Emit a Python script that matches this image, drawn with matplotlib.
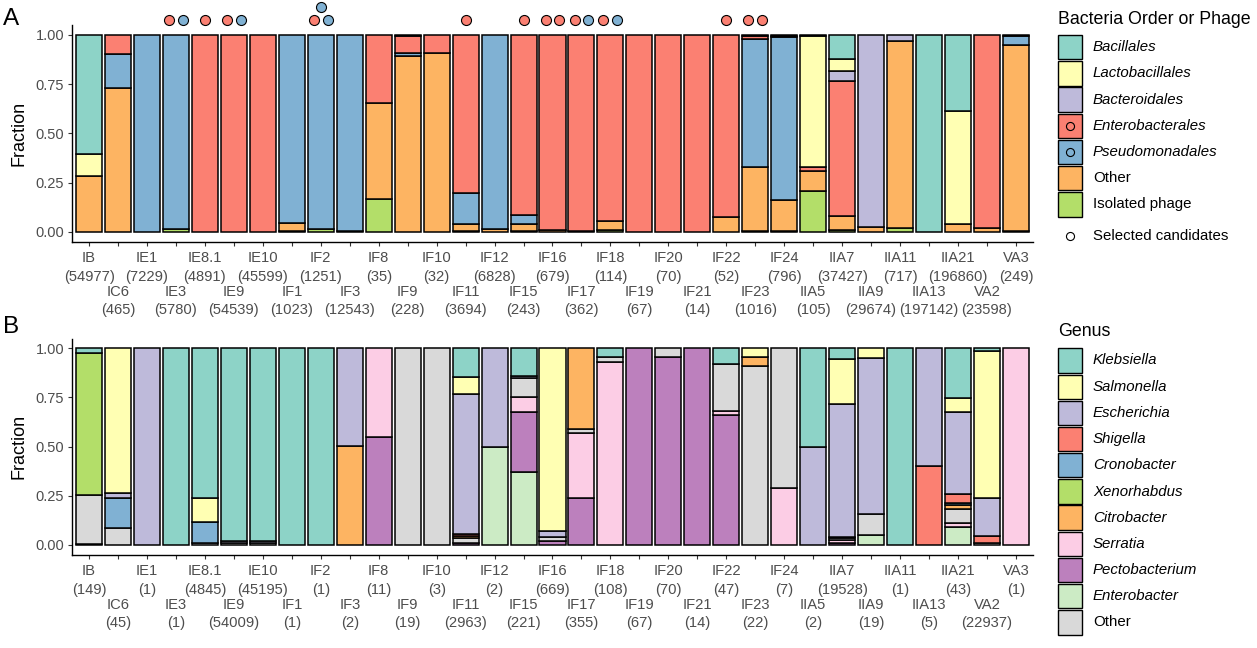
import numpy as np
import matplotlib
matplotlib.use('Agg')
import matplotlib.pyplot as plt
import matplotlib.transforms as mtransforms
from matplotlib.patches import Rectangle
from matplotlib.lines import Line2D

plt.rcParams['font.family'] = ['Liberation Sans', 'DejaVu Sans']

W, H = 1257, 648

strains = ['IB', 'IC6', 'IE1', 'IE3', 'IE8.1', 'IE9', 'IE10',
           'IF1', 'IF2', 'IF3', 'IF8', 'IF9', 'IF10', 'IF11', 'IF12',
           'IF15', 'IF16', 'IF17', 'IF18', 'IF19', 'IF20', 'IF21', 'IF22', 'IF23', 'IF24',
           'IIA5', 'IIA7', 'IIA9', 'IIA11', 'IIA13', 'IIA21', 'VA2', 'VA3']
counts_a = [54977, 465, 7229, 5780, 4891, 54539, 45599,
            1023, 1251, 12543, 35, 228, 32, 3694, 6828,
            243, 679, 362, 114, 67, 70, 14, 52, 1016, 796,
            105, 37427, 29674, 717, 197142, 196860, 23598, 249]
counts_b = [149, 45, 1, 1, 4845, 54009, 45195,
            1, 1, 2, 11, 19, 3, 2963, 2,
            221, 669, 355, 108, 67, 70, 14, 47, 22, 7,
            2, 19528, 19, 1, 5, 43, 22937, 1]

# panel A: fraction per bacterial order (stacked bottom -> top)
phage_a = [0, 0, 0, 0.012, 0, 0, 0,
           0.006, 0.015, 0, 0.169, 0, 0, 0.005, 0,
           0.005, 0, 0, 0.008, 0, 0, 0, 0, 0.005, 0.005,
           0.208, 0.008, 0, 0.02, 0, 0, 0, 0.005]
other_a = [0.285, 0.729, 0, 0, 0, 0, 0,
           0.038, 0, 0.004, 0.487, 0.895, 0.907, 0.036, 0.012,
           0.037, 0.01, 0.006, 0.045, 0, 0, 0, 0.076, 0.325, 0.159,
           0.102, 0.073, 0.025, 0.948, 0, 0.039, 0.02, 0.941]
pseudo_a = [0, 0.173, 1, 0.988, 0, 0, 0,
            0.956, 0.985, 0.996, 0, 0.012, 0, 0.154, 0.988,
            0.043, 0, 0, 0, 0, 0, 0, 0, 0.648, 0.824,
            0, 0, 0, 0, 0, 0, 0, 0.049]
entero_a = [0, 0.098, 0, 0, 1, 1, 1,
            0, 0, 0, 0.344, 0.089, 0.093, 0.805, 0,
            0.915, 0.99, 0.994, 0.947, 1, 1, 1, 0.924, 0.017, 0.008,
            0.02, 0.685, 0, 0, 0, 0, 0.98, 0.005]
bactero_a = [0, 0, 0, 0, 0, 0, 0,
             0, 0, 0, 0, 0.004, 0, 0, 0,
             0, 0, 0, 0, 0, 0, 0, 0, 0, 0,
             0, 0.051, 0.975, 0.032, 0, 0, 0, 0]
lacto_a = [0.108, 0, 0, 0, 0, 0, 0,
           0, 0, 0, 0, 0, 0, 0, 0,
           0, 0, 0, 0, 0, 0, 0, 0, 0, 0,
           0.662, 0.059, 0, 0, 0, 0.575, 0, 0]
bacil_a = [0.607, 0, 0, 0, 0, 0, 0,
           0, 0, 0, 0, 0, 0, 0, 0,
           0, 0, 0, 0, 0, 0, 0, 0, 0.005, 0.004,
           0.008, 0.124, 0, 0, 1, 0.386, 0, 0]

# panel B: fraction per genus (stacked bottom -> top)
enterob_b = [0, 0, 0, 0, 0, 0, 0,
             0, 0, 0, 0, 0, 0, 0, 0.5,
             0.369, 0, 0, 0, 0, 0, 0, 0, 0, 0,
             0, 0, 0.053, 0, 0, 0.093, 0, 0]
pecto_b = [0.006, 0, 0, 0, 0, 0, 0,
           0, 0, 0, 0.547, 0, 0, 0.012, 0,
           0.306, 0.022, 0.237, 0, 1, 0.958, 1, 0.661, 0, 0,
           0, 0.01, 0, 0, 0, 0, 0, 0]
serratia_b = [0, 0, 0, 0, 0, 0, 0,
              0, 0, 0, 0.453, 0, 0, 0, 0,
              0.076, 0, 0.331, 0.932, 0, 0, 0, 0.02, 0, 0.288,
              0, 0.015, 0, 0, 0, 0.02, 0, 1]
other_b = [0.25, 0.088, 0, 0, 0.008, 0.012, 0.012,
           0, 0, 0, 0, 1, 1, 0.025, 0,
           0.1, 0.017, 0.024, 0.024, 0, 0.042, 0, 0.238, 0.912, 0.712,
           0, 0.01, 0.106, 0, 0, 0.07, 0.01, 0]
citro_b = [0, 0, 0, 0, 0, 0, 0,
           0, 0, 0.502, 0, 0, 0, 0.008, 0,
           0, 0, 0.408, 0, 0, 0, 0, 0, 0.042, 0,
           0, 0.007, 0, 0, 0, 0.022, 0, 0]
xeno_b = [0.722, 0, 0, 0, 0, 0, 0,
          0, 0, 0, 0, 0, 0, 0, 0,
          0, 0, 0, 0, 0, 0, 0, 0, 0, 0,
          0, 0, 0, 0, 0, 0, 0, 0]
crono_b = [0, 0.153, 0, 0, 0.111, 0, 0,
           0, 0, 0, 0, 0, 0, 0, 0,
           0, 0, 0, 0, 0, 0, 0, 0, 0, 0,
           0, 0, 0, 0, 0, 0.01, 0, 0]
shig_b = [0, 0, 0, 0, 0, 0, 0,
          0, 0, 0, 0, 0, 0, 0.01, 0,
          0, 0, 0, 0, 0, 0, 0, 0, 0, 0,
          0, 0, 0, 0, 0.402, 0.045, 0.036, 0]
esch_b = [0, 0.025, 1, 0, 0, 0.008, 0.01,
          0, 0, 0.498, 0, 0, 0, 0.713, 0.5,
          0.009, 0.032, 0, 0, 0, 0, 0, 0, 0, 0,
          0.5, 0.675, 0.792, 0, 0.598, 0.417, 0.191, 0]
salm_b = [0, 0.734, 0, 0, 0.12, 0, 0,
          0, 0, 0, 0, 0, 0, 0.088, 0,
          0, 0.929, 0, 0, 0, 0, 0, 0, 0.046, 0,
          0, 0.229, 0.049, 0, 0, 0.071, 0.751, 0]
kleb_b = [0.022, 0, 0, 1, 0.761, 0.98, 0.978,
          1, 1, 0, 0, 0, 0, 0.144, 0,
          0.14, 0, 0, 0.044, 0, 0, 0, 0.081, 0, 0,
          0.5, 0.054, 0, 1, 0, 0.252, 0.012, 0]

# selected candidates shown above panel A
cand_strains = ['IE3', 'IE3', 'IE8.1', 'IE9', 'IE9', 'IF2', 'IF2', 'IF2',
                'IF11', 'IF15', 'IF16', 'IF16', 'IF17', 'IF17', 'IF18', 'IF18',
                'IF22', 'IF23', 'IF23']
cand_orders = ['Enterobacterales', 'Pseudomonadales', 'Enterobacterales',
               'Enterobacterales', 'Pseudomonadales', 'Enterobacterales',
               'Pseudomonadales', 'Pseudomonadales', 'Enterobacterales',
               'Enterobacterales', 'Enterobacterales', 'Enterobacterales',
               'Enterobacterales', 'Pseudomonadales', 'Enterobacterales',
               'Pseudomonadales', 'Enterobacterales', 'Enterobacterales',
               'Enterobacterales']

orders = ['Bacillales', 'Lactobacillales', 'Bacteroidales', 'Enterobacterales',
          'Pseudomonadales', 'Other', 'Isolated phage']
order_colors = ['#8DD3C7', '#FFFFB3', '#BEBADA', '#FB8072', '#80B1D3', '#FDB462', '#B3DE69']
stack_a = [phage_a, other_a, pseudo_a, entero_a, bactero_a, lacto_a, bacil_a]
stack_a_col = ['#B3DE69', '#FDB462', '#80B1D3', '#FB8072', '#BEBADA', '#FFFFB3', '#8DD3C7']

genera = ['Klebsiella', 'Salmonella', 'Escherichia', 'Shigella', 'Cronobacter',
          'Xenorhabdus', 'Citrobacter', 'Serratia', 'Pectobacterium', 'Enterobacter', 'Other']
genus_colors = ['#8DD3C7', '#FFFFB3', '#BEBADA', '#FB8072', '#80B1D3', '#B3DE69',
                '#FDB462', '#FCCDE5', '#BC80BD', '#CCEBC5', '#D9D9D9']
stack_b = [enterob_b, pecto_b, serratia_b, other_b, citro_b, xeno_b, crono_b,
           shig_b, esch_b, salm_b, kleb_b]
stack_b_col = ['#CCEBC5', '#BC80BD', '#FCCDE5', '#D9D9D9', '#FDB462', '#B3DE69',
               '#80B1D3', '#FB8072', '#BEBADA', '#FFFFB3', '#8DD3C7']

fig = plt.figure(figsize=(W / 100, H / 100), dpi=100)


def fx(px):
    return px / W


def fy(py):
    return 1 - py / H


x = np.arange(1, len(strains) + 1)


def draw_panel(ax, stack, cols, counts, ax_h_px):
    bottom = np.zeros(len(x))
    for vals, col in zip(stack, cols):
        vals = np.array(vals, dtype=float)
        m = vals > 0
        ax.bar(x[m], vals[m], bottom=bottom[m], width=0.9, color=col,
               edgecolor='black', linewidth=1.1)
        bottom += vals
    ax.set_xlim(0.4, len(x) + 0.6)
    ax.set_ylim(-0.05, 1.05)
    ax.set_yticks([0, 0.25, 0.5, 0.75, 1.0])
    ax.set_yticklabels(['0.00', '0.25', '0.50', '0.75', '1.00'])
    ax.set_xticks(x)
    ax.set_xticklabels([])
    # strain labels alternate between two rows under the axis
    trans = mtransforms.blended_transform_factory(ax.transData, ax.transAxes)
    for i, (s, c) in enumerate(zip(strains, counts)):
        off = 9.4 if i % 2 == 0 else 42.8
        ax.text(x[i], -off / ax_h_px, f'{s}\n({c})', transform=trans, ha='center',
                va='top', fontsize=10.6, color='#4D4D4D', linespacing=1.42)
    for sp in ['top', 'right']:
        ax.spines[sp].set_visible(False)
    for sp in ['left', 'bottom']:
        ax.spines[sp].set_linewidth(1.0)
    ax.tick_params(axis='both', length=2.8, width=0.8, color='#333333',
                   labelcolor='#4D4D4D', labelsize=10.5)
    ax.tick_params(axis='y', pad=2.5)
    ax.set_ylabel('Fraction', fontsize=13)
    ax.yaxis.set_label_coords(-0.046, 0.5)


axA = fig.add_axes([fx(71.7), fy(241.7), fx(1033.3 - 71.7), (241.7 - 25) / H])
axB = fig.add_axes([fx(71.7), fy(554.8), fx(1033.3 - 71.7), (554.8 - 338.5) / H])
draw_panel(axA, stack_a, stack_a_col, counts_a, 241.7 - 25)
draw_panel(axB, stack_b, stack_b_col, counts_b, 554.8 - 338.5)

# candidate dots above panel A
cand_col = {'Enterobacterales': '#FB8072', 'Pseudomonadales': '#80B1D3'}
slots = {1: [(0, 0)], 2: [(-0.24, 0), (0.24, 0)], 3: [(-0.24, 0), (0.24, 0), (0, 1)]}
for s in dict.fromkeys(cand_strains):
    idx = [i for i, c in enumerate(cand_strains) if c == s]
    xc = strains.index(s) + 1
    for (dx, row), i in zip(slots[len(idx)], idx):
        axA.scatter(xc + dx, 1.076 + 0.066 * row, s=52, color=cand_col[cand_orders[i]],
                    edgecolor='black', linewidth=0.8, clip_on=False, zorder=5)

fig.text(fx(3), fy(25), 'A', fontsize=17.5, va='baseline', ha='left')
fig.text(fx(3), fy(333), 'B', fontsize=17.5, va='baseline', ha='left')


def legend_block(title, labels, colors, title_base, key_top, circled=()):
    fig.text(fx(1058), fy(title_base), title, fontsize=12.8, va='baseline', ha='left')
    step = 26.2
    for i, (lab, col) in enumerate(zip(labels, colors)):
        y0 = key_top + step * i
        fig.add_artist(Rectangle((fx(1058.3), fy(y0 + 24.3)), fx(24), 24.3 / H,
                                 transform=fig.transFigure, facecolor=col,
                                 edgecolor='black', linewidth=1.0))
        style = 'normal' if lab in ('Other', 'Isolated phage') else 'italic'
        fig.text(fx(1093), fy(y0 + 12.2), lab, fontsize=10.8, style=style,
                 va='center', ha='left')
        if lab in circled:
            fig.add_artist(Line2D([fx(1070.3)], [fy(y0 + 12.2)], transform=fig.transFigure,
                                  marker='o', markersize=5.8, markerfacecolor='none',
                                  markeredgecolor='black', markeredgewidth=0.8))


legend_block('Bacteria Order or Phage', orders, order_colors, 23.5, 35,
             circled=('Enterobacterales', 'Pseudomonadales'))
fig.add_artist(Line2D([fx(1070.3)], [fy(235.7)], transform=fig.transFigure,
                      marker='o', markersize=5.8, markerfacecolor='none',
                      markeredgecolor='black', markeredgewidth=0.8))
fig.text(fx(1093), fy(235.7), 'Selected candidates', fontsize=10.8, va='center', ha='left')

legend_block('Genus', genera, genus_colors, 336.5, 348.3)

fig.savefig('out.png', dpi=100)
